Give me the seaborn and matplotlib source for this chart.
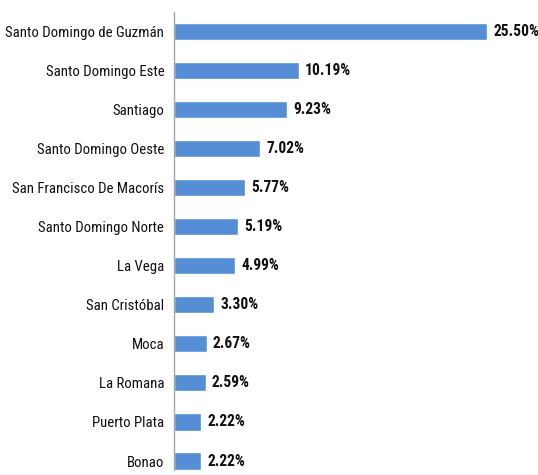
import matplotlib
matplotlib.use("Agg")
import matplotlib.pyplot as plt
import seaborn as sns
import pandas as pd

provincias = [
    "Santo Domingo de Guzmán", "Santo Domingo Este", "Santiago",
    "Santo Domingo Oeste", "San Francisco De Macorís", "Santo Domingo Norte",
    "La Vega", "San Cristóbal", "Moca", "La Romana", "Puerto Plata", "Bonao",
]
porcentajes = [25.50, 10.19, 9.23, 7.02, 5.77, 5.19, 4.99, 3.30, 2.67, 2.59, 2.22, 2.22]

df = pd.DataFrame({"Provincia": provincias, "Porcentaje": porcentajes})

sns.set_style("white")
plt.rcParams["font.family"] = ["Roboto Condensed", "DejaVu Sans"]

fig = plt.figure(figsize=(5.38, 4.75), dpi=100)
ax = fig.add_axes([174 / 538, 5 / 475, 1 - 174 / 538, 1 - 17 / 475])

sns.barplot(data=df, x="Porcentaje", y="Provincia", orient="h",
            color="#558ED5", saturation=1, width=0.44, ax=ax)

# etiquetas de porcentaje al final de cada barra
for i, v in enumerate(porcentajes):
    ax.text(v + 0.5, i, f"{v:.2f}%", va="center", ha="left",
            fontsize=11.2, fontweight="bold", color="#111111")

ax.set_xlim(0, 29.66)
ax.set_ylim(11.23, -0.49)
ax.set_xlabel("")
ax.set_ylabel("")
ax.set_xticks([])
ax.tick_params(axis="y", length=0, pad=7, labelsize=10.6, labelcolor="#111111")
for s in ["top", "right", "bottom"]:
    ax.spines[s].set_visible(False)
ax.spines["left"].set_color("#A6A6A6")
ax.spines["left"].set_linewidth(1)

fig.savefig("out.png", dpi=100)
